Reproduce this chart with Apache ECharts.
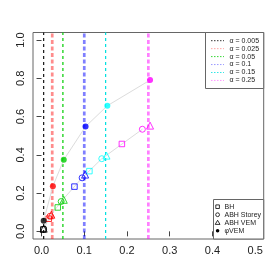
<!DOCTYPE html>
<html><head><meta charset="utf-8">
<script src="https://cdn.jsdelivr.net/npm/echarts@6/dist/echarts.min.js"></script>
<style>html,body{margin:0;padding:0;background:#fff}#c{width:280px;height:280px}</style>
</head><body><div id="c"></div>
<script>
var alphas = [0.005, 0.025, 0.05, 0.1, 0.15, 0.25];
var alphaLabels = ['α = 0.005','α = 0.025','α = 0.05','α = 0.1','α = 0.15','α = 0.25'];
var xTicks = [0, 0.1, 0.2, 0.3, 0.4, 0.5];
var yTicks = [0, 0.2, 0.4, 0.6, 0.8, 1.0];
var bhX = [0.004, 0.017, 0.038, 0.077, 0.112, 0.188];
var bhY = [0.010, 0.066, 0.125, 0.234, 0.315, 0.457];
var storeyX = [0.005, 0.020, 0.046, 0.095, 0.141, 0.236];
var storeyY = [0.012, 0.079, 0.156, 0.280, 0.380, 0.534];
var vemX = [0.005, 0.023, 0.052, 0.102, 0.152, 0.254];
var vemY = [0.014, 0.087, 0.165, 0.297, 0.396, 0.553];
var evemX = [0.005, 0.0265, 0.052, 0.103, 0.154, 0.254];
var evemY = [0.055, 0.236, 0.374, 0.548, 0.657, 0.791];
var methodLabels = ['BH', 'ABH Storey', 'ABH VEM', 'φVEM'];

var X_MIN = -0.02, X_MAX = 0.52, Y_MIN = -0.04, Y_MAX = 1.04;
var colors = ['#000000', '#ff0000', '#00cd00', '#0000ff', '#00ffff', '#ff00ff'];
var vlineColors = ['#000000', 'rgba(255,0,0,0.45)', '#00cd00', 'rgba(0,0,255,0.5)', '#00e0e0', 'rgba(255,0,255,0.5)'];
var vlineWidths = [1.1, 2.7, 1.2, 2.7, 1.2, 2.7];

function zip(xs, ys) { return xs.map(function (x, i) { return [x, ys[i]]; }); }
function pts(xs, ys, hollow) {
  return xs.map(function (x, i) {
    return {
      value: [x, ys[i]],
      itemStyle: hollow ? { color: 'rgba(0,0,0,0)', borderColor: colors[i], borderWidth: 1 }
                        : { color: colors[i], borderWidth: 0 }
    };
  });
}

var font = 'Liberation Sans, Arial, Helvetica, sans-serif';
var chart = echarts.init(document.getElementById('c'), null, { renderer: 'canvas' });

var L1x = 205.5, L1y = 32.5, L1w = 58.2, L1h = 56;
var legend1 = [{ type: 'rect', shape: { x: L1x, y: L1y, width: L1w, height: L1h },
  style: { fill: '#fff', stroke: '#666', lineWidth: 1 }, z: 100 }];
alphas.forEach(function (a, i) {
  var ry = 40.7 + i * 7.95;
  legend1.push({ type: 'line', shape: { x1: 211, y1: ry, x2: 224, y2: ry },
    style: { stroke: vlineColors[i], lineWidth: 0.8, lineDash: [1.5, 1.5] }, z: 101 });
  legend1.push({ type: 'text', x: 229.5, y: ry,
    style: { text: alphaLabels[i], fontSize: 7, fontFamily: font, fill: '#222', textVerticalAlign: 'middle', verticalAlign: 'middle' }, z: 101 });
});

var L2x = 213.5, L2y = 199.5, L2w = 50.2, L2h = 39.5;
var sx = 217.6;
var legend2 = [{ type: 'rect', shape: { x: L2x, y: L2y, width: L2w, height: L2h },
  style: { fill: '#fff', stroke: '#666', lineWidth: 1 }, z: 100 }];
var rows = [206.7, 214.7, 222.7, 230.7];
legend2.push({ type: 'rect', shape: { x: sx - 1.8, y: rows[0] - 1.8, width: 3.6, height: 3.6 }, style: { fill: 'none', stroke: '#000', lineWidth: 0.8 }, z: 101 });
legend2.push({ type: 'circle', shape: { cx: sx, cy: rows[1], r: 1.9 }, style: { fill: 'none', stroke: '#000', lineWidth: 0.8 }, z: 101 });
legend2.push({ type: 'polygon', shape: { points: [[sx, rows[2] - 2.4], [sx - 2.4, rows[2] + 1.7], [sx + 2.4, rows[2] + 1.7]] }, style: { fill: 'none', stroke: '#000', lineWidth: 0.8 }, z: 101 });
legend2.push({ type: 'circle', shape: { cx: sx, cy: rows[3], r: 1.8 }, style: { fill: '#000' }, z: 101 });
methodLabels.forEach(function (m, i) {
  legend2.push({ type: 'text', x: 224.5, y: rows[i],
    style: { text: m, fontSize: 7, fontFamily: font, fill: '#222', textVerticalAlign: 'middle', verticalAlign: 'middle' }, z: 101 });
});

var series = [];
alphas.forEach(function (a, i) {
  series.push({ type: 'line', data: [[a, Y_MIN], [a, Y_MAX]], symbol: 'none', silent: true, z: 1,
    lineStyle: { color: vlineColors[i], width: vlineWidths[i], type: vlineWidths[i] > 2 ? [4, 2.5] : [3, 3] } });
});
series.push(
  { type: 'line', data: zip(evemX, evemY), symbol: 'none', lineStyle: { color: '#dcdcdc', width: 1 }, z: 2 },
  { type: 'line', data: zip(storeyX, storeyY), symbol: 'none', lineStyle: { color: '#dcdcdc', width: 1 }, z: 2 },
  { type: 'scatter', data: pts(bhX, bhY, true), symbol: 'rect', symbolSize: 5.5, z: 3 },
  { type: 'scatter', data: pts(storeyX, storeyY, true), symbol: 'circle', symbolSize: 6, z: 3 },
  { type: 'scatter', data: pts(vemX, vemY, true), symbol: 'triangle', symbolSize: 7, z: 3 },
  { type: 'scatter', data: pts(evemX, evemY, false), symbol: 'circle', symbolSize: 6, z: 4 }
);

var option = {
  animation: false,
  backgroundColor: '#fff',
  grid: { left: 33, top: 32.5, right: 16.3, bottom: 41, show: true, borderColor: '#666', borderWidth: 1, backgroundColor: 'transparent' },
  xAxis: {
    type: 'value', min: X_MIN, max: X_MAX,
    splitLine: { show: false }, axisLine: { show: false },
    axisTick: { show: true, length: 5, customValues: xTicks, lineStyle: { color: '#444' } },
    axisLabel: { customValues: xTicks, margin: 6, fontSize: 11, fontFamily: font, color: '#222',
      formatter: function (v) { return v.toFixed(1); } }
  },
  yAxis: {
    type: 'value', min: Y_MIN, max: Y_MAX,
    splitLine: { show: false }, axisLine: { show: false },
    axisTick: { show: true, length: 5, customValues: yTicks, lineStyle: { color: '#444' } },
    axisLabel: { customValues: yTicks, rotate: 90, margin: 7, fontSize: 11, fontFamily: font, color: '#222',
      formatter: function (v) { return v.toFixed(1); } }
  },
  graphic: legend1.concat(legend2),
  series: series
};
chart.setOption(option);
</script></body></html>
